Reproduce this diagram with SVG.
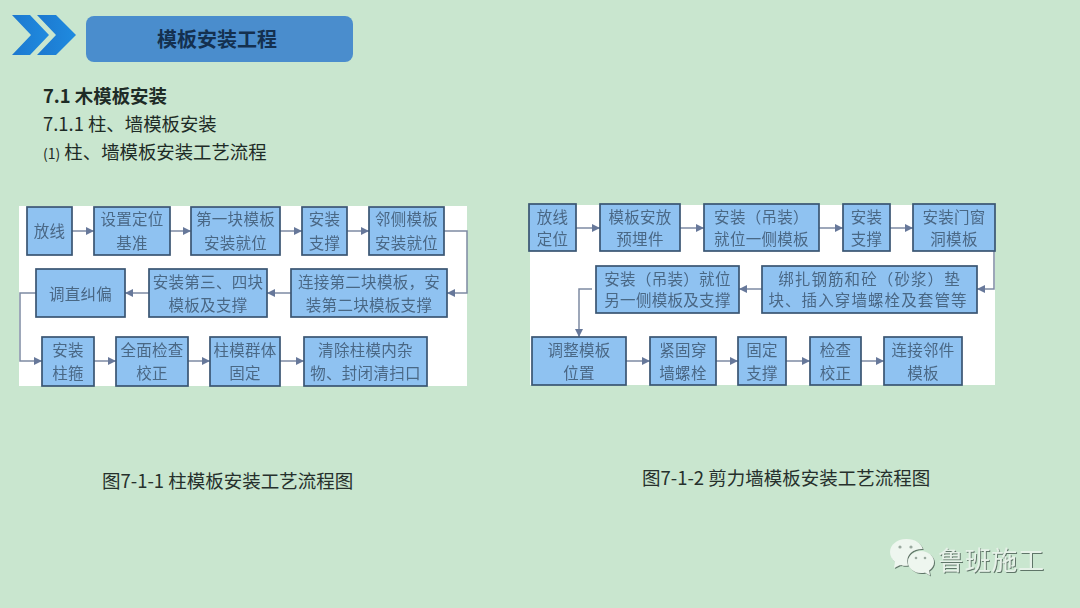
<svg xmlns="http://www.w3.org/2000/svg" width="1080" height="608" viewBox="0 0 1080 608">
<style>
text{font-family:"Noto Sans CJK SC","Noto Sans",sans-serif}
.b{fill:#8fc2f1;stroke:#3a5572;stroke-width:1.7}
.t{font-size:15.5px;fill:#4a6785;text-anchor:middle;letter-spacing:.3px;dominant-baseline:central;filter:url(#soft)}
.w{letter-spacing:1.100px}
.c{fill:none;stroke:#7d8aa3;stroke-width:1.500;marker-end:url(#arr)}
.h{font-size:18.400px;fill:#1e2b26}
.cap{font-size:18.500px;fill:#26302c}
</style>
<defs>
<marker id="arr" markerUnits="userSpaceOnUse" markerWidth="10" markerHeight="9" refX="8" refY="4.500" orient="auto"><path d="M0 0.500L8 4.500L0 8.500Z" fill="#67789a"/></marker>
<filter id="soft" x="-5%" y="-10%" width="110%" height="120%"><feGaussianBlur stdDeviation="0.45"/></filter>
<filter id="sh" x="-10%" y="-20%" width="120%" height="140%"><feDropShadow dx="1" dy="1" stdDeviation="0.6" flood-color="#5f7568"/></filter>
<linearGradient id="chev" x1="0" x2="1" y1="0" y2="0"><stop offset="0" stop-color="#1c78cf"/><stop offset="1" stop-color="#1f8be0"/></linearGradient>
</defs>
<rect width="1080" height="608" fill="#c9e6cf"/>
<g id="header">
<path d="M12 55L31 35L12 15H30L49 35L30 55Z" fill="url(#chev)"/>
<path d="M37 55L56 35L37 15H56L76 35L56 55Z" fill="url(#chev)"/>
<rect x="86" y="16" width="267" height="46" rx="8" fill="#4a8dcd"/>
<text x="217" y="47" font-size="20" font-weight="700" fill="#14304f" text-anchor="middle">模板安装工程</text>
</g>
<g id="headings">
<text class="h" x="43" y="103" font-weight="700" fill="#14201b">7.1 木模板安装</text>
<text class="h" x="43" y="131">7.1.1 柱、墙模板安装</text>
<text class="h" x="43" y="159"><tspan font-size="14">(1)</tspan> 柱、墙模板安装工艺流程</text>
</g>
<rect x="19" y="206" width="448" height="180" fill="#fff"/>
<rect x="530" y="205" width="465" height="180" fill="#fff"/>
<g id="connectors">
<path class="c" d="M72 231H94"/><path class="c" d="M170 231H191"/><path class="c" d="M280 231H302"/><path class="c" d="M347 231H369"/>
<path class="c" d="M444 231H467V293H447"/>
<path class="c" d="M291 293H267"/><path class="c" d="M149 293H125"/>
<path class="c" d="M36 293H20V361H42"/>
<path class="c" d="M94 361H116"/><path class="c" d="M188 361H210"/><path class="c" d="M280 361H304"/>
<path class="c" d="M576 228H600"/><path class="c" d="M680 228H704"/><path class="c" d="M819 228H843"/><path class="c" d="M890 228H913"/>
<path class="c" d="M994 251V289H977"/>
<path class="c" d="M762 289H739"/>
<path class="c" d="M592 289H579V337"/>
<path class="c" d="M626 361H650"/><path class="c" d="M716 361H738"/><path class="c" d="M786 361H810"/><path class="c" d="M861 361H884"/>
</g>
<g id="n1"><rect class="b" x="27" y="207" width="45" height="48"/><text class="t" x="49.500" y="230">放线</text></g>
<g id="n2"><rect class="b" x="94" y="207" width="76" height="48"/><text class="t" x="132" y="218">设置定位</text><text class="t" x="132" y="242">基准</text></g>
<g id="n3"><rect class="b" x="191" y="207" width="89" height="48"/><text class="t" x="235.500" y="218">第一块模板</text><text class="t" x="235.500" y="242">安装就位</text></g>
<g id="n4"><rect class="b" x="302" y="207" width="45" height="48"/><text class="t" x="324.500" y="218">安装</text><text class="t" x="324.500" y="242">支撑</text></g>
<g id="n5"><rect class="b" x="369" y="207" width="75" height="48"/><text class="t" x="406.500" y="218">邻侧模板</text><text class="t" x="406.500" y="242">安装就位</text></g>
<g id="n6"><rect class="b" x="291" y="269" width="156" height="48"/><text class="t" x="369" y="281">连接第二块模板，安</text><text class="t" x="369" y="304">装第二块模板支撑</text></g>
<g id="n7"><rect class="b" x="149" y="269" width="118" height="48"/><text class="t" x="208" y="281">安装第三、四块</text><text class="t" x="208" y="304">模板及支撑</text></g>
<g id="n8"><rect class="b" x="36" y="269" width="89" height="48"/><text class="t" x="80.500" y="293">调直纠偏</text></g>
<g id="n9"><rect class="b" x="42" y="337" width="52" height="49"/><text class="t" x="68" y="349">安装</text><text class="t" x="68" y="372">柱箍</text></g>
<g id="n10"><rect class="b" x="116" y="337" width="72" height="49"/><text class="t" x="152" y="349">全面检查</text><text class="t" x="152" y="372">校正</text></g>
<g id="n11"><rect class="b" x="210" y="337" width="70" height="49"/><text class="t" x="245" y="349">柱模群体</text><text class="t" x="245" y="372">固定</text></g>
<g id="n12"><rect class="b" x="304" y="337" width="123" height="49"/><text class="t" x="365.500" y="349">清除柱模内杂</text><text class="t" x="365.500" y="372">物、封闭清扫口</text></g>
<g id="m1"><rect class="b" x="529" y="204" width="47" height="47"/><text class="t" x="552.500" y="216">放线</text><text class="t" x="552.500" y="238">定位</text></g>
<g id="m2"><rect class="b" x="600" y="204" width="80" height="47"/><text class="t" x="640" y="216">模板安放</text><text class="t" x="640" y="238">预埋件</text></g>
<g id="m3"><rect class="b" x="704" y="204" width="115" height="47"/><text class="t" x="761.500" y="216">安装（吊装）</text><text class="t" x="761.500" y="238">就位一侧模板</text></g>
<g id="m4"><rect class="b" x="843" y="204" width="47" height="47"/><text class="t" x="866.500" y="216">安装</text><text class="t" x="866.500" y="238">支撑</text></g>
<g id="m5"><rect class="b" x="913" y="204" width="82" height="47"/><text class="t" x="954" y="216">安装门窗</text><text class="t" x="954" y="238">洞模板</text></g>
<g id="m6"><rect class="b" x="762" y="266" width="215" height="47"/><text class="t w" x="869.500" y="278">绑扎钢筋和砼（砂浆）垫</text><text class="t w" x="868" y="299">块、插入穿墙螺栓及套管等</text></g>
<g id="m7"><rect class="b" x="596" y="266" width="143" height="47"/><text class="t" x="667.500" y="278">安装（吊装）就位</text><text class="t" x="667.500" y="299">另一侧模板及支撑</text></g>
<g id="m8"><rect class="b" x="532" y="337" width="94" height="48"/><text class="t" x="579" y="349">调整模板</text><text class="t" x="579" y="372">位置</text></g>
<g id="m9"><rect class="b" x="650" y="337" width="66" height="48"/><text class="t" x="683" y="349">紧固穿</text><text class="t" x="683" y="372">墙螺栓</text></g>
<g id="m10"><rect class="b" x="738" y="337" width="48" height="48"/><text class="t" x="762" y="349">固定</text><text class="t" x="762" y="372">支撑</text></g>
<g id="m11"><rect class="b" x="810" y="337" width="51" height="48"/><text class="t" x="835.500" y="349">检查</text><text class="t" x="835.500" y="372">校正</text></g>
<g id="m12"><rect class="b" x="884" y="337" width="78" height="48"/><text class="t" x="923" y="349">连接邻件</text><text class="t" x="923" y="372">模板</text></g>
<g id="captions">
<text class="cap" x="102" y="488">图7-1-1 柱模板安装工艺流程图</text>
<text class="cap" x="642" y="485">图7-1-2 剪力墙模板安装工艺流程图</text>
</g>
<g id="logo" filter="url(#sh)">
<path d="M906 539c-9 0-16 6-16 13 0 4 2 7 5 10l-1 6 6-3c2 .6 3 .8 5 .8 1 0 2 0 3-.2-.5-1.500-.8-3-.8-4.600 0-7 6-12 14-12h1.500c-1.500-6-8-10-16-10z" fill="#eef6ef"/>
<path d="M921 551c-7 0-13 5-13 11s6 11 13 11c1.500 0 3-.2 4-.6l5 3-1-5c3-2 5-5 5-8.400 0-6-6-11-13-11z" fill="#eef6ef"/>
<g fill="#9aa99f"><circle cx="900" cy="547" r="1.600"/><circle cx="911" cy="547" r="1.600"/><circle cx="916" cy="558" r="1.300"/><circle cx="925" cy="558" r="1.300"/></g>
<text x="938" y="570" font-size="26" fill="#e6f1e8" textLength="106">鲁班施工</text>
</g>
</svg>
